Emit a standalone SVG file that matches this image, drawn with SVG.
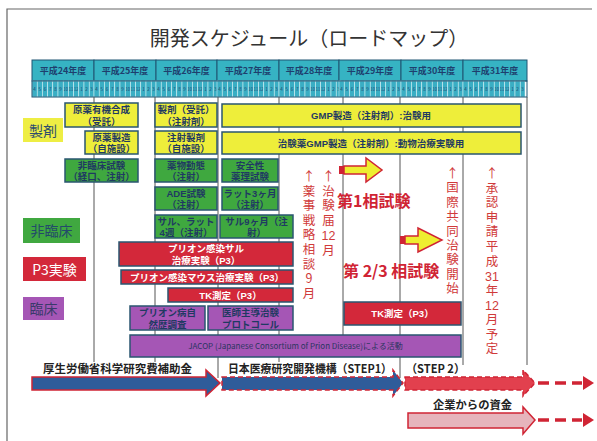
<svg xmlns="http://www.w3.org/2000/svg" xmlns:xlink="http://www.w3.org/1999/xlink" width="597" height="441" viewBox="0 0 597 441">
<style>
text{font-family:"Noto Sans CJK JP","Noto Sans",sans-serif}
.bx{stroke:#2A5670;stroke-width:1.5}
.y{fill:#EEEE3A}.g{fill:#3FA83F}.r{fill:#D3283A}.p{fill:#A556B5}
.t{font-family:"Liberation Sans","Noto Sans CJK JP",sans-serif;font-size:9.5px;font-weight:bold;fill:#1F3A62;text-anchor:middle}
.w{fill:#FFFFFF}
.hdr{fill:#36B3C3;stroke:#1E5572;stroke-width:1}
.yt{font-size:9px;font-weight:bold;fill:#1E3F6E;text-anchor:middle}
.mc{fill:#3AAEC4;stroke:#E4F6F8;stroke-width:0.5}
.mt{font-size:4.5px;fill:#1E3F6E;text-anchor:middle}
.vl{stroke:#555;stroke-width:1}
.vv{font-size:12.5px;fill:#D03A3A;writing-mode:vertical-rl;text-orientation:upright;letter-spacing:2.1px}
.vd{font-family:"Liberation Sans",sans-serif;font-size:12.5px;fill:#D03A3A;text-anchor:middle}
.big{font-size:16px;font-weight:bold;fill:#D02434}
.fund{font-size:11.5px;font-weight:bold;fill:#222}
.lab{font-size:14px;text-anchor:middle}
</style>
<defs>
<g id="months">
<rect class="mc" x="0" y="0" width="5.2" height="16"/><text class="mt" x="2.6" y="10">4</text>
<rect class="mc" x="5.2" y="0" width="5.2" height="16"/><text class="mt" x="7.8" y="10">5</text>
<rect class="mc" x="10.4" y="0" width="5.2" height="16"/><text class="mt" x="13" y="10">6</text>
<rect class="mc" x="15.6" y="0" width="5.2" height="16"/><text class="mt" x="18.2" y="10">7</text>
<rect class="mc" x="20.8" y="0" width="5.2" height="16"/><text class="mt" x="23.4" y="10">8</text>
<rect class="mc" x="26" y="0" width="5.2" height="16"/><text class="mt" x="28.6" y="10">9</text>
<rect class="mc" x="31.2" y="0" width="5.2" height="16"/><text class="mt" x="33.8" y="10" textLength="4.4" lengthAdjust="spacingAndGlyphs">10</text>
<rect class="mc" x="36.4" y="0" width="5.2" height="16"/><text class="mt" x="39" y="10" textLength="4.4" lengthAdjust="spacingAndGlyphs">11</text>
<rect class="mc" x="41.6" y="0" width="5.2" height="16"/><text class="mt" x="44.2" y="10" textLength="4.4" lengthAdjust="spacingAndGlyphs">12</text>
<rect class="mc" x="46.8" y="0" width="5.2" height="16"/><text class="mt" x="49.4" y="10">1</text>
<rect class="mc" x="52" y="0" width="5.2" height="16"/><text class="mt" x="54.6" y="10">2</text>
<rect class="mc" x="57.2" y="0" width="4.8" height="16"/><text class="mt" x="59.6" y="10">3</text>
</g>
</defs>

<rect x="0" y="0" width="597" height="441" fill="#FFFFFF"/>
<path d="M7,441 V9 H592" fill="none" stroke="#666" stroke-width="1.2"/>

<text x="309" y="46" font-size="20" fill="#333" text-anchor="middle">開発スケジュール（ロードマップ）</text>

<g id="header">
<rect class="hdr" x="32" y="60" width="62" height="21"/>
<rect class="hdr" x="94" y="60" width="62" height="21"/>
<rect class="hdr" x="156" y="60" width="61" height="21"/>
<rect class="hdr" x="217" y="60" width="62" height="21"/>
<rect class="hdr" x="279" y="60" width="60" height="21"/>
<rect class="hdr" x="339" y="60" width="62" height="21"/>
<rect class="hdr" x="401" y="60" width="62" height="21"/>
<rect class="hdr" x="463" y="60" width="64" height="21"/>
<text class="yt" x="63" y="74">平成24年度</text>
<text class="yt" x="125" y="74">平成25年度</text>
<text class="yt" x="186.5" y="74">平成26年度</text>
<text class="yt" x="248" y="74">平成27年度</text>
<text class="yt" x="309" y="74">平成28年度</text>
<text class="yt" x="370" y="74">平成29年度</text>
<text class="yt" x="432" y="74">平成30年度</text>
<text class="yt" x="495" y="74">平成31年度</text>
<use xlink:href="#months" x="32" y="81"/>
<use xlink:href="#months" x="94" y="81"/>
<use xlink:href="#months" x="156" y="81"/>
<use xlink:href="#months" x="217" y="81"/>
<use xlink:href="#months" x="279" y="81"/>
<use xlink:href="#months" x="339" y="81"/>
<use xlink:href="#months" x="401" y="81"/>
<use xlink:href="#months" x="463" y="81"/>
<rect x="32" y="81" width="495" height="16" fill="none" stroke="#1E5572" stroke-width="1"/>
</g>

<g id="grid">
<line class="vl" x1="94" y1="97" x2="94" y2="362"/>
<line class="vl" x1="155" y1="97" x2="155" y2="362"/>
<line class="vl" x1="218" y1="97" x2="218" y2="378"/>
<line class="vl" x1="279" y1="97" x2="279" y2="362"/>
<line class="vl" x1="343" y1="97" x2="343" y2="357"/>
<line class="vl" x1="400" y1="97" x2="400" y2="378"/>
<line class="vl" x1="463" y1="97" x2="463" y2="365"/>
<line class="vl" x1="527" y1="97" x2="527" y2="365"/>
</g>

<g id="label-seizai"><rect x="23" y="118" width="40" height="24" fill="#EEEE44"/><text class="lab" x="43" y="136" fill="#2E4C6E">製剤</text></g>
<g id="label-hirinsho"><rect x="23" y="218" width="57" height="25" fill="#40A840"/><text class="lab" x="51.5" y="236" fill="#234A6A">非臨床</text></g>
<g id="label-p3"><rect x="23" y="257" width="63" height="24" fill="#D3283A"/><text class="lab" x="54.5" y="275" fill="#FFFFFF">P3実験</text></g>
<g id="label-rinsho"><rect x="23" y="297" width="41" height="23" fill="#A556B5"/><text class="lab" x="43.5" y="314" fill="#3A3A6A">臨床</text></g>

<g id="n1"><rect class="bx y" x="65" y="103" width="73" height="24"/><text class="t" x="101.5" y="113">原薬有機合成</text><text class="t" x="101.5" y="124.5">（受託）</text></g>
<g id="n2"><rect class="bx y" x="155" y="103" width="62" height="24"/><text class="t" x="186" y="113">製剤（受託）</text><text class="t" x="186" y="124.5">（注射剤）</text></g>
<g id="n3"><rect class="bx y" x="222" y="104" width="299" height="23"/><text class="t" x="371" y="119">GMP製造（注射剤）:治験用</text></g>
<g id="n4"><rect class="bx y" x="85" y="131" width="53" height="23"/><text class="t" x="111.5" y="140.5">原薬製造</text><text class="t" x="111.5" y="152">（自施設）</text></g>
<g id="n5"><rect class="bx y" x="155" y="131" width="62" height="23"/><text class="t" x="186" y="140.5">注射製剤</text><text class="t" x="186" y="152">（自施設）</text></g>
<g id="n6"><rect class="bx y" x="222" y="132" width="299" height="22"/><text class="t" x="371" y="146.5">治験薬GMP製造（注射剤）:動物治療実験用</text></g>

<g id="n7"><rect class="bx g" x="65" y="159" width="73" height="23"/><text class="t" x="101.5" y="168.5">非臨床試験</text><text class="t" x="101.5" y="180">（経口、注射）</text></g>
<g id="n8"><rect class="bx g" x="155" y="159" width="62" height="23"/><text class="t" x="186" y="168.5">薬物動態</text><text class="t" x="186" y="180">（注射）</text></g>
<g id="n9"><rect class="bx g" x="222" y="159" width="56" height="23"/><text class="t" x="250" y="168.5">安全性</text><text class="t" x="250" y="180">薬理試験</text></g>
<g id="n10"><rect class="bx g" x="155" y="187" width="62" height="23"/><text class="t" x="186" y="196.5">ADE試験</text><text class="t" x="186" y="208">（注射）</text></g>
<g id="n11"><rect class="bx g" x="222" y="187" width="56" height="23"/><text class="t" x="250" y="196.5">ラット3ヶ月</text><text class="t" x="250" y="208">（注射）</text></g>
<g id="n12"><rect class="bx g" x="155" y="215" width="62" height="23"/><text class="t" x="186" y="224.5">サル、ラット</text><text class="t" x="186" y="236">4週（注射）</text></g>
<g id="n13"><rect class="bx g" x="220" y="215" width="73" height="23"/><text class="t" x="256.5" y="224.5">サル9ヶ月（注</text><text class="t" x="256.5" y="236">射）</text></g>

<g id="n14"><rect class="bx r" x="119" y="242" width="174" height="24"/><text class="t w" x="206" y="252">プリオン感染サル</text><text class="t w" x="206" y="263.5">治療実験（P3）</text></g>
<g id="n15"><rect class="bx r" x="121" y="270" width="172" height="14"/><text class="t w" x="207" y="280.5">プリオン感染マウス治療実験（P3）</text></g>
<g id="n16"><rect class="bx r" x="168" y="288" width="125" height="14"/><text class="t w" x="230.5" y="298.5">TK測定（P3）</text></g>
<g id="n17"><rect class="bx r" x="344" y="302" width="117" height="23"/><text class="t w" x="402.5" y="317">TK測定（P3）</text></g>

<g id="n18"><rect class="bx p" x="130" y="306" width="75" height="24"/><text class="t" x="167.5" y="316">プリオン病自</text><text class="t" x="167.5" y="327.5">然歴調査</text></g>
<g id="n19"><rect class="bx p" x="208" y="306" width="85" height="24"/><text class="t" x="250.5" y="316">医師主導治験</text><text class="t" x="250.5" y="327.5">プロトコール</text></g>
<g id="n20"><rect class="bx p" x="130" y="335" width="331" height="22"/><text x="295.5" y="349" font-size="8" fill="#2A3560" text-anchor="middle">JACOP (Japanese Consortium of Prion Disease)による活動</text></g>

<g id="phase-arrows">
<rect x="339" y="166" width="5" height="8" fill="#D02434"/>
<polygon points="344,166 366,166 366,158 382,170 366,182 366,174 344,174" fill="#EEEE30" stroke="#D02434" stroke-width="1.5"/>
<rect x="400" y="236" width="5" height="8" fill="#D02434"/>
<polygon points="405,236 418,236 418,228 442,240 418,252 418,244 405,244" fill="#EEEE30" stroke="#D02434" stroke-width="1.5"/>
<text class="big" x="337" y="207">第1相試験</text>
<text class="big" x="343" y="277">第 2/3 相試験</text>
</g>

<g id="milestones">
<text class="vv" x="309" y="170">↑薬事戦略相談9月</text>

<text class="vv" x="328.5" y="170">↑治験届</text>
<text class="vd" x="328.5" y="240">12</text>
<text class="vv" x="328.5" y="243.5">月</text>

<text class="vv" x="452.5" y="167" style="letter-spacing:1.9px">↑国際共同治験開始</text>

<text class="vv" x="492" y="167">↑承認申請平成</text>
<text class="vd" x="492" y="281">31</text>
<text class="vv" x="492" y="284">年</text>
<text class="vd" x="492" y="310.2">12</text>
<text class="vv" x="492" y="313.2">月予定</text>
</g>

<g id="funding">
<text class="fund" x="43" y="373" textLength="149" lengthAdjust="spacingAndGlyphs">厚生労働省科学研究費補助金</text>
<text class="fund" x="228" y="373" textLength="164" lengthAdjust="spacingAndGlyphs">日本医療研究開発機構（STEP1）</text>
<text class="fund" x="406" y="373" textLength="59" lengthAdjust="spacingAndGlyphs">（STEP  2）</text>
<text class="fund" x="433" y="409" textLength="79" lengthAdjust="spacingAndGlyphs">企業からの資金</text>
<polygon points="32,377 206,377 206,370 220,383 206,396 206,390 32,390" fill="#2F5C9A" stroke="#D02434" stroke-width="1.5"/>
<polygon points="222,377 393,377 393,370 403,383 393,396 393,390 222,390" fill="#2F5C9A" stroke="#D02434" stroke-width="1.5" stroke-dasharray="5 3"/>
<polygon points="405,377 523,377 523,370 535,383 523,396 523,390 405,390" fill="#E2404E" stroke="#D02434" stroke-width="1.5" stroke-dasharray="5 3"/>
<line x1="538" y1="383" x2="582" y2="383" stroke="#D02434" stroke-width="3.5" stroke-dasharray="11 6"/>
<polygon points="583,376 594,383 583,390" fill="#D02434"/>
<polygon points="408,413 523,413 523,407 535,420 523,434 523,428 408,428" fill="#E6B4BC" stroke="#D02434" stroke-width="1.5"/>
<line x1="538" y1="420" x2="582" y2="420" stroke="#D02434" stroke-width="3.5" stroke-dasharray="11 6"/>
<polygon points="583,413 594,420 583,427" fill="#D02434"/>
</g>
</svg>
